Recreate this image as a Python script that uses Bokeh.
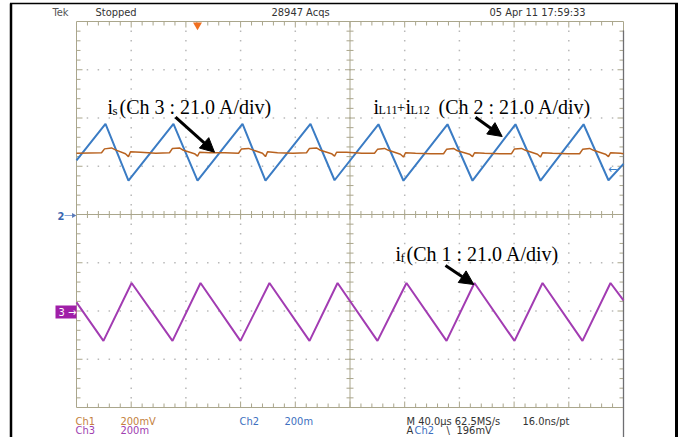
from bokeh.plotting import figure
from bokeh.models import Range1d, Arrow, NormalHead
from bokeh.core.properties import value
from bokeh.embed import file_html
from bokeh.resources import INLINE

# ---------------- data (time in us, 40 us/div; amplitude in screen divisions) -------------
ch2_t = [-200.0, -178.8, -162.0, -129.1, -111.5, -78.6, -61.8, -28.9, -11.3,
         20.8, 39.1, 71.3, 89.6, 121.0, 139.3, 170.8, 189.0, 200.0]
ch2_v = [1.12, 1.88, 0.70, 1.88, 0.70, 1.88, 0.70, 1.88, 0.71,
         1.87, 0.70, 1.87, 0.70, 1.87, 0.70, 1.87, 0.71, 1.05]

ch1_t = [-200.0,
         -181.7, -179.5, -174.4, -171.5, -164.2, -162.0, -160.5, -153.2, -142.0,
         -132.0, -129.8, -124.7, -121.8, -113.7, -111.5, -110.0, -102.7, -91.5,
         -81.5, -79.3, -74.2, -71.3, -64.0, -61.8, -60.3, -53.0, -41.8,
         -31.8, -29.6, -24.5, -21.6, -13.5, -11.3, -9.8, -2.5, 8.7,
         17.9, 20.1, 25.2, 28.1, 36.9, 39.1, 40.6, 47.9, 59.1,
         68.4, 70.6, 75.7, 78.6, 87.4, 89.6, 91.1, 98.4, 109.6,
         118.1, 120.3, 125.4, 128.3, 137.1, 139.3, 140.8, 148.1, 159.3,
         167.9, 170.1, 175.2, 178.1, 186.8, 189.0, 190.5, 197.8, 200.0]
ch1_v = [1.27,
         1.28, 1.36, 1.38, 1.34, 1.26, 1.20, 1.30, 1.29, 1.27,
         1.28, 1.37, 1.38, 1.33, 1.26, 1.21, 1.29, 1.28, 1.28,
         1.27, 1.36, 1.37, 1.34, 1.27, 1.20, 1.30, 1.28, 1.27,
         1.28, 1.37, 1.38, 1.33, 1.26, 1.21, 1.29, 1.29, 1.27,
         1.27, 1.35, 1.37, 1.33, 1.25, 1.19, 1.28, 1.27, 1.26,
         1.26, 1.35, 1.37, 1.32, 1.25, 1.20, 1.28, 1.27, 1.26,
         1.26, 1.36, 1.37, 1.33, 1.25, 1.19, 1.28, 1.27, 1.26,
         1.26, 1.35, 1.37, 1.33, 1.25, 1.20, 1.28, 1.27, 1.26]

ch3_t = [-200.0, -180.3, -159.7, -129.8, -109.3, -80.1, -58.9, -29.6, -9.1,
         20.1, 41.3, 70.6, 91.0, 120.3, 140.8, 170.0, 190.5, 200.0]
ch3_v = [-1.82, -2.62, -1.42, -2.62, -1.42, -2.62, -1.42, -2.62, -1.42,
         -2.62, -1.42, -2.62, -1.42, -2.62, -1.42, -2.62, -1.42, -1.78]

header_text = ["Tek", "Stopped", "28947 Acqs", "05 Apr 11 17:59:33"]
footer_row1 = ["Ch1", "200mV", "Ch2", "200m", "M 40.0\u00b5s 62.5MS/s", "16.0ns/pt"]
footer_row2 = ["Ch3", "200m", "A", "Ch2", "\\", "196mV"]

# ---------------- geometry ----------------
W, H = 685, 437
OFF = 0               # canvas origin in picture pixels
SX = 547 / 400.0      # px per us
SY = 386 / 8.0        # px per division
XS = -200 - (76 - OFF) / SX
XE = XS + W / SX
YE = 4 + (21 - OFF) / SY
YS = YE - H / SY


def X(px):
    return XS + (px - OFF) / SX


def Y(py):
    return YE - (py - OFF) / SY


p = figure(width=W, height=H, x_range=Range1d(XS, XE), y_range=Range1d(YS, YE),
           x_axis_type=None, y_axis_type=None, toolbar_location=None,
           output_backend="svg", min_border=0, outline_line_color=None,
           background_fill_color="white", border_fill_color="white")
p.grid.visible = False

GC = "#aaa68c"
DOT = "#b8b8b8"

# dotted grid
dx, dy = [], []
for k in range(1, 10):
    if k == 5:
        continue
    for j in range(1, 40):
        dx.append(-200 + 40 * k)
        dy.append(-4 + 0.2 * j)
for j in range(1, 8):
    if j == 4:
        continue
    for k in range(1, 50):
        dx.append(-200 + 8 * k)
        dy.append(-4 + j)
p.scatter(dx, dy, marker="square", size=1.5, color=DOT, line_color=None)

# border + centre cross
p.segment(x0=[-200, -200, -200, 200, -200, 0], y0=[4, -4, -4, -4, 0, -4],
          x1=[200, 200, -200, 200, 200, 0], y1=[4, -4, 4, 4, 0, 4],
          line_color=GC, line_width=1)

# ticks
sx0, sy0, sx1, sy1 = [], [], [], []
for k in range(1, 50):
    t = -200 + 8 * k
    L = 6 if k % 5 == 0 else 4
    Lc = 5 if k % 5 == 0 else 3.5
    sx0 += [t, t, t]
    sx1 += [t, t, t]
    sy0 += [4, -4, -Lc / SY]
    sy1 += [4 - L / SY, -4 + L / SY, Lc / SY]
for j in range(1, 40):
    v = -4 + 0.2 * j
    L = 6 if j % 5 == 0 else 4
    Lc = 5 if j % 5 == 0 else 3.5
    sy0 += [v, v, v]
    sy1 += [v, v, v]
    sx0 += [-200, 200, -Lc / SX]
    sx1 += [-200 + L / SX, 200 - L / SX, Lc / SX]
p.segment(x0=sx0, y0=sy0, x1=sx1, y1=sy1, line_color=GC, line_width=1)

# dark right screen edge
p.segment(x0=[200], y0=[Y(30)], x1=[200], y1=[YS], line_color="#6e6e72", line_width=1.3)

# traces
p.line(ch2_t, ch2_v, line_color="#3b7cc4", line_width=2)
p.line(ch1_t, ch1_v, line_color="#b8621f", line_width=1.5)
p.line(ch3_t, ch3_v, line_color="#a23cb2", line_width=2)

# markers
p.scatter([X(197)], [Y(24.5)], marker="inverted_triangle", size=9,
          color="#f07020", line_color=None)
cond = value("DejaVu Sans Condensed")
p.text(x=[X(57)], y=[Y(215)], text=["2"], text_color="#3a66b0", text_font=cond,
       text_font_size="11px", text_baseline="middle", text_font_style="bold")
p.segment(x0=[X(64)], y0=[Y(215)], x1=[X(74)], y1=[Y(215)], line_color="#8aa6d6", line_width=1.2)
p.scatter([X(73)], [Y(215)], marker="triangle", angle=-1.5708, size=5, color="#5a7ab8",
          line_color=None)
p.quad(left=[X(55)], right=[X(76)], top=[Y(305)], bottom=[Y(318)], color="#a01fa8",
       line_color=None)
p.text(x=[X(58)], y=[Y(311.5)], text=["3 \u2192"], text_color="white", text_font=cond,
       text_font_size="11px", text_baseline="middle")
p.text(x=[X(608)], y=[Y(168)], text=["\u2190"], text_color="#3b7cc4", text_font=cond,
       text_font_size="12px", text_baseline="middle")

# header
hx = [52, 95, 271, 489]
p.text(x=[X(v) for v in hx], y=[Y(11.5)] * 4, text=header_text,
       text_color=["#555555", "#333333", "#333333", "#333333"], text_font=cond,
       text_font_size="11px", text_baseline="middle")

# footer
ORG, BLU, MAG, DRK = "#c47f3e", "#3d6fc0", "#a040b0", "#333333"
f1x = [75, 120, 239, 284, 406, 522]
p.text(x=[X(v) for v in f1x], y=[Y(420.5)] * 6, text=footer_row1,
       text_color=[ORG, ORG, BLU, BLU, DRK, DRK], text_font=cond,
       text_font_size="11px", text_baseline="alphabetic")
f2x = [75, 120, 406, 414, 446, 456]
p.text(x=[X(v) for v in f2x], y=[Y(430)] * 6, text=footer_row2,
       text_color=[MAG, MAG, DRK, BLU, DRK, DRK], text_font=cond,
       text_font_size="11px", text_baseline="alphabetic")

# annotations
serif = value("Liberation Serif")


def ann(parts):
    for txt, px, py, size in parts:
        p.text(x=[X(px)], y=[Y(py)], text=[txt], text_color="black", text_font=serif,
               text_font_size=f"{size}px", text_baseline="alphabetic")


ann([("i", 107, 106.7, 20), ("s", 112, 109.5, 13), ("(Ch 3 : 21.0 A/div)", 119, 106.7, 20)])
ann([("i", 373, 106.7, 20), ("L11", 378, 109.5, 12), ("+", 396.5, 106.7, 14),
     ("i", 405, 106.7, 20), ("L12", 410, 109.5, 12), ("(Ch 2 : 21.0 A/div)", 438, 106.7, 20)])
ann([("i", 395, 253.3, 20), ("f", 400, 256.7, 13), ("(Ch 1 : 21.0 A/div)", 406, 253.3, 20)])

for (x0, y0, x1, y1) in [(175, 116.7, 214, 151.7), (475, 116.7, 501.7, 136), (445, 265, 473.3, 284)]:
    p.add_layout(Arrow(end=NormalHead(size=14, fill_color="black", line_color="black"),
                       x_start=X(x0), y_start=Y(y0), x_end=X(x1), y_end=Y(y1),
                       line_color="black", line_width=3))

# black frame of the surrounding cell
p.segment(x0=[X(10.5), X(676)], y0=[YS, YS], x1=[X(10.5), X(676)], y1=[Y(3), Y(3)],
          line_color="black", line_width=[2.5, 3])
p.segment(x0=[X(9.5)], y0=[Y(3)], x1=[X(677.5)], y1=[Y(3)], line_color="black", line_width=1.5)

open("out.html", "w").write(file_html(p, INLINE))
